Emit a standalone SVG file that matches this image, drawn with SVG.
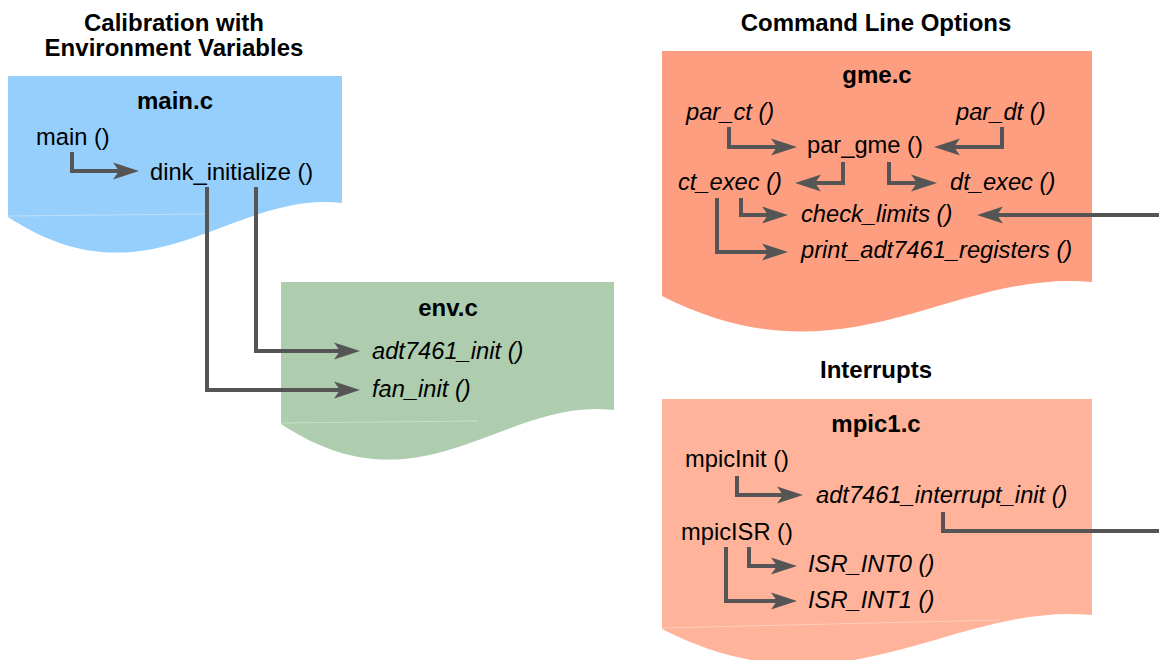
<svg xmlns="http://www.w3.org/2000/svg" width="1159" height="660" viewBox="0 0 1159 660">
  <style>
    text { font-family: "Liberation Sans", Arial, Helvetica, sans-serif; font-size: 23.7px; fill: #000; }
    .heading { font-weight: bold; text-anchor: middle; font-size: 24px; }
    .file { font-weight: bold; text-anchor: middle; font-size: 24px; }
    .it { font-style: italic; }
    .seam { stroke: #fff; stroke-width: 1; opacity: 0.35; fill: none; }
    .conn { fill: none; stroke: #555; stroke-width: 4; stroke-linejoin: miter; stroke-linecap: butt; }
    .arrow { marker-end: url(#head); }
  </style>
  <defs>
    <!-- stealth arrowhead; the line stops at the notch, the tip lies 20px further on -->
    <marker id="head" markerUnits="userSpaceOnUse" viewBox="0 -10 30 20" markerWidth="30" markerHeight="20" refX="6" refY="0" orient="auto" overflow="visible">
      <path d="M0,-8.5 L26,0 L0,8.5 L6,0 Z" fill="#555"/>
    </marker>
  </defs>

  <rect width="1159" height="660" fill="#fff"/>

  <!-- section headings -->
  <g id="headings">
    <text class="heading" x="174" y="31">Calibration with</text>
    <text class="heading" x="174" y="56">Environment Variables</text>
    <text class="heading" x="876" y="31">Command Line Options</text>
    <text class="heading" x="876" y="378">Interrupts</text>
  </g>

  <!-- main.c -->
  <g id="main_c">
    <path d="M8,76 H342 V203 C230,190 150,310 8,217 Z" fill="#96CFFC"/>
    <path class="seam" d="M8,216 L205,214"/>
    <text class="file" x="175" y="109">main.c</text>
    <text x="36" y="145">main ()</text>
    <text x="150" y="180">dink_initialize ()</text>
  </g>

  <!-- env.c -->
  <g id="env_c">
    <path d="M281,282 H614 V410 C502,397 422,517 281,424 Z" fill="#AECDAF"/>
    <path class="seam" d="M281,423 L478,421"/>
    <text class="file" x="448" y="316">env.c</text>
    <text class="it" x="372" y="359">adt7461_init ()</text>
    <text class="it" x="372" y="397">fan_init ()</text>
  </g>

  <!-- gme.c -->
  <g id="gme_c">
    <path d="M662,51 H1092 V282 C948,269 845,389 662,296 Z" fill="#FE9E80"/>
    <text class="file" x="877" y="83">gme.c</text>
    <text class="it" x="686" y="120">par_ct ()</text>
    <text class="it" x="956" y="120">par_dt ()</text>
    <text x="807" y="153">par_gme ()</text>
    <text class="it" x="678" y="190">ct_exec ()</text>
    <text class="it" x="950" y="190">dt_exec ()</text>
    <text class="it" x="801" y="222">check_limits ()</text>
    <text class="it" x="801" y="258">print_adt7461_registers ()</text>
  </g>

  <!-- mpic1.c -->
  <g id="mpic1_c">
    <path d="M662,399 H1092 V615 C948,602 845,722 662,629 Z" fill="#FFB39A"/>
    <path class="seam" d="M662,628 L1000,620"/>
    <text class="file" x="876" y="432">mpic1.c</text>
    <text x="685" y="467">mpicInit ()</text>
    <text class="it" x="816" y="503">adt7461_interrupt_init ()</text>
    <text x="681" y="540">mpicISR ()</text>
    <text class="it" x="808" y="572">ISR_INT0 ()</text>
    <text class="it" x="808" y="608">ISR_INT1 ()</text>
  </g>

  <!-- call connectors -->
  <g id="connectors">
    <path class="conn arrow" d="M72,152 V171 H119"/>
    <path class="conn arrow" d="M256,187 V351 H340"/>
    <path class="conn arrow" d="M207,187 V390 H340"/>
    <path class="conn arrow" d="M729,127 V147 H777"/>
    <path class="conn arrow" d="M1002,127 V147 H954"/>
    <path class="conn arrow" d="M843,162 V183 H815"/>
    <path class="conn arrow" d="M889,162 V183 H917"/>
    <path class="conn arrow" d="M741,198 V215 H768"/>
    <path class="conn arrow" d="M717,198 V252 H768"/>
    <path class="conn arrow" d="M1159,215 H997"/>
    <path class="conn arrow" d="M737,476 V495 H783"/>
    <path class="conn" d="M943,512 V531 H1159"/>
    <path class="conn arrow" d="M749,547 V566 H777"/>
    <path class="conn arrow" d="M726,547 V601 H777"/>
  </g>
</svg>
